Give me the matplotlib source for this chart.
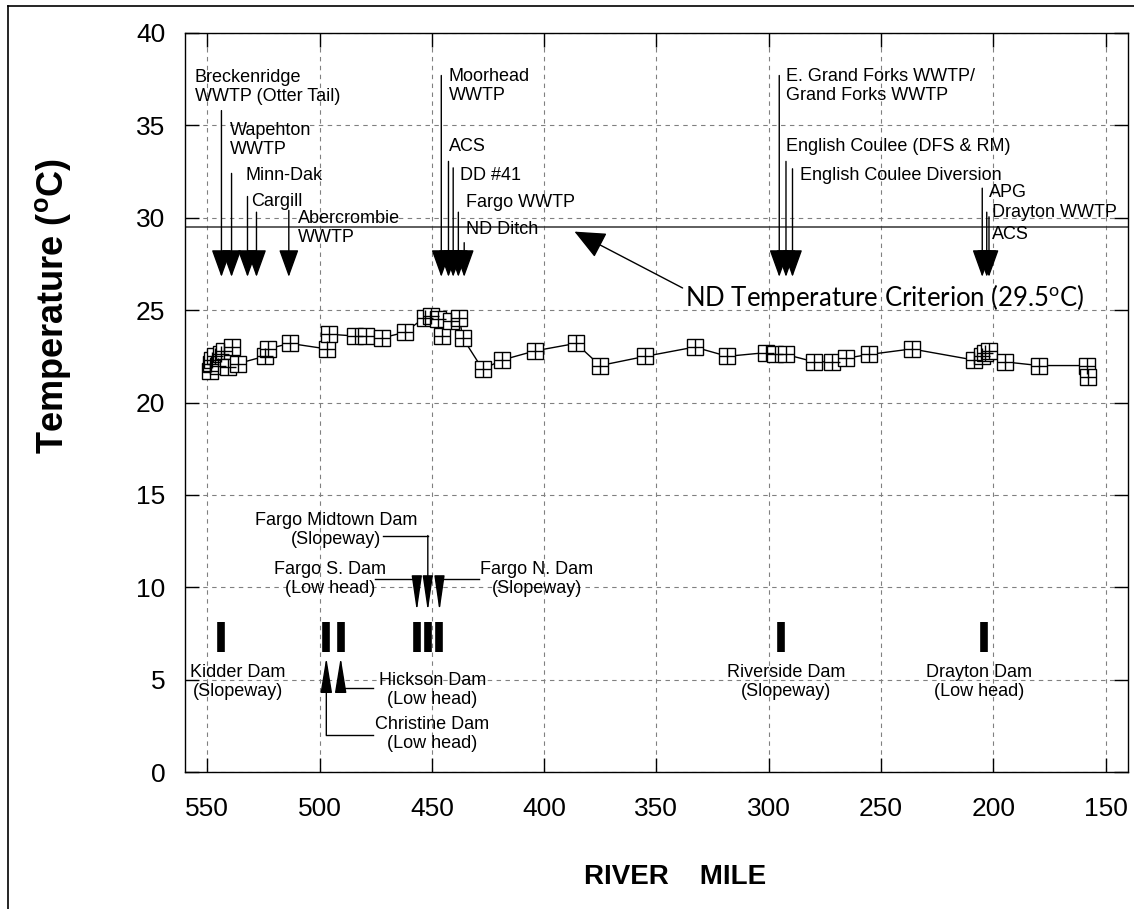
import matplotlib
matplotlib.use('Agg')
import matplotlib.pyplot as plt
from matplotlib.lines import Line2D

plt.rcParams['font.family'] = ['Liberation Sans', 'DejaVu Sans']
plt.rcParams['mathtext.default'] = 'regular'

# measured temperature along the river
river_mile = [549.0, 548.5, 547.8, 546.5, 545.2, 544.0, 542.5, 541.0, 539.0, 536.5,
              524.5, 523.0, 513.3, 496.8, 496.0, 484.4, 479.2, 472.0, 462.0, 453.2,
              450.3, 447.4, 445.6, 441.4, 437.7, 436.3, 427.4, 418.7, 403.9, 385.8,
              375.1, 354.9, 333.0, 318.4, 301.1, 297.0, 292.3, 279.7, 271.7, 265.5,
              255.3, 236.3, 208.6, 205.2, 203.5, 201.9, 194.9, 179.6, 158.3, 157.8]
temp_c = [21.7, 22.1, 22.3, 22.5, 22.0, 22.6, 22.8, 21.9, 23.0, 22.1,
          22.5, 22.9, 23.2, 22.9, 23.7, 23.6, 23.6, 23.5, 23.8, 24.6,
          24.7, 24.5, 23.6, 24.4, 24.6, 23.5, 21.8, 22.3, 22.8, 23.2,
          22.0, 22.5, 23.0, 22.5, 22.7, 22.6, 22.6, 22.2, 22.2, 22.4,
          22.6, 22.9, 22.3, 22.5, 22.7, 22.8, 22.2, 22.0, 22.0, 21.4]

criterion = 29.5

# point discharges (arrow from top value down to tip)
discharge_mile = [543.7, 539.2, 532.1, 528.1, 513.7, 445.8, 442.6, 440.5, 438.2, 435.6,
                  295.3, 292.3, 289.4, 204.9, 202.9, 201.9]
discharge_top = [35.8, 32.4, 31.15, 30.3, 30.4, 37.7, 33.05, 32.7, 30.3, 28.65,
                 37.7, 33.05, 32.65, 31.6, 30.3, 30.05]
discharge_tip = 26.8

discharge_labels = ['Breckenridge\nWWTP (Otter Tail)', 'Wapehton\nWWTP', 'Minn-Dak', 'Cargill',
                    'Abercrombie\nWWTP', 'Moorhead\nWWTP', 'ACS', 'DD #41', 'Fargo WWTP', 'ND Ditch',
                    'E. Grand Forks WWTP/\nGrand Forks WWTP', 'English Coulee (DFS & RM)',
                    'English Coulee Diversion', 'APG', 'Drayton WWTP', 'ACS']
label_mile = [555.5, 540.0, 532.9, 530.3, 509.7, 442.5, 442.5, 437.5, 435.0, 435.0,
              292.2, 292.2, 286.1, 201.9, 200.6, 200.6]
label_temp = [37.1, 34.2, 32.3, 30.9, 29.45, 37.15, 33.84, 32.3, 30.8, 29.35,
              37.15, 33.84, 32.3, 31.35, 30.26, 29.1]

# dams
dam_mile = [544.1, 497.0, 490.6, 456.7, 451.8, 446.6, 294.3, 204.1]
dam_low = 6.5
dam_high = 8.1

dam_labels = ['Kidder Dam\n(Slopeway)', 'Hickson Dam\n(Low head)', 'Christine Dam\n(Low head)',
              'Riverside Dam\n(Slopeway)', 'Drayton Dam\n(Low head)', 'Fargo Midtown Dam\n(Slopeway)',
              'Fargo S. Dam\n(Low head)', 'Fargo N. Dam\n(Slopeway)']
dam_label_mile = [536.4, 449.7, 449.7, 292.4, 206.2, 492.6, 495.5, 403.4]
dam_label_temp = [4.89, 4.45, 2.06, 4.89, 4.89, 13.1, 10.45, 10.45]

# leader lines for dams (elbow: label end -> dam)
up_dam_mile = [490.6, 497.0]          # Hickson, Christine
up_elbow_temp = [4.55, 2.0]
up_elbow_end = [476.4, 476.4]
up_tip = 6.2
down_dam_mile = [451.8, 456.7, 446.6]  # Midtown, S., N.
down_elbow_temp = [12.8, 10.43, 10.43]
down_elbow_end = [471.8, 475.5, 428.8]
down_tip = 8.7

fig = plt.figure(figsize=(11.34, 9.09), dpi=100)
ax = fig.add_axes([0.163, 0.1507, 0.8317, 0.813])

ax.plot(river_mile, temp_c, color='black', lw=1, zorder=3)
ax.plot(river_mile, temp_c, linestyle='none', marker='s', ms=11, mfc='white',
        mec='black', mew=1, zorder=4)
ax.plot(river_mile, temp_c, linestyle='none', marker='+', ms=11, mec='black',
        mew=1, zorder=5)

ax.axhline(criterion, color='#333333', lw=1.1, zorder=2)

for m, top in zip(discharge_mile, discharge_top):
    ax.annotate('', xy=(m, discharge_tip), xytext=(m, top),
                arrowprops=dict(arrowstyle='-|>,head_length=0.86,head_width=0.31',
                                mutation_scale=20, color='black', lw=1,
                                shrinkA=0, shrinkB=0))
for txt, m, t in zip(discharge_labels, label_mile, label_temp):
    ax.text(m, t, txt, fontsize=13, ha='left', va='center', linespacing=1.15)

ax.annotate('ND Temperature Criterion (29.5$^{o}$C)', xy=(386.5, criterion - 0.25),
            xytext=(337.1, 25.7), fontsize=18.5, family=['Lato', 'DejaVu Sans'],
            ha='left', va='center',
            arrowprops=dict(arrowstyle='-|>,head_length=0.97,head_width=0.43',
                            mutation_scale=20, color='black', lw=1,
                            shrinkA=0, shrinkB=0, relpos=(0, 0.75)))

ax.vlines(dam_mile, dam_low, dam_high, color='black', lw=5.5, zorder=3)
for txt, m, t in zip(dam_labels, dam_label_mile, dam_label_temp):
    ax.text(m, t, txt, fontsize=13, ha='center', va='center', linespacing=1.15)

for m, e, end in zip(up_dam_mile, up_elbow_temp, up_elbow_end):
    ax.plot([end, m], [e, e], color='black', lw=1)
    ax.annotate('', xy=(m, up_tip), xytext=(m, e),
                arrowprops=dict(arrowstyle='-|>,head_length=1.1,head_width=0.18',
                                mutation_scale=20, color='black', lw=1,
                                shrinkA=0, shrinkB=0))
for m, e, end in zip(down_dam_mile, down_elbow_temp, down_elbow_end):
    ax.plot([end, m], [e, e], color='black', lw=1)
    ax.annotate('', xy=(m, down_tip), xytext=(m, e),
                arrowprops=dict(arrowstyle='-|>,head_length=1.1,head_width=0.16',
                                mutation_scale=20, color='black', lw=1,
                                shrinkA=0, shrinkB=0))

ax.set_xlim(560, 140)
ax.set_ylim(0, 40)
ax.set_xticks([550, 500, 450, 400, 350, 300, 250, 200, 150])
ax.set_yticks(range(0, 41, 5))
ax.grid(True, color='gray', linestyle=(0, (4, 4)), lw=0.8)
ax.set_axisbelow(True)
ax.tick_params(direction='in', length=10, width=1, top=True, right=True,
               labelsize=19)
ax.tick_params(axis='x', pad=18)
ax.tick_params(axis='y', pad=14)
for s in ax.spines.values():
    s.set_linewidth(1)

ax.set_ylabel('Temperature ($^{o}$C)', fontsize=26, fontweight='bold')
ax.yaxis.set_label_coords(-0.14, 0.63)
ax.set_xlabel('RIVER    MILE', fontsize=20, fontweight='bold')
ax.xaxis.set_label_coords(0.52, -0.142)
ax.xaxis.label.set_va('center')
ax.yaxis.label.set_va('center')

# outer frame lines
fig.add_artist(Line2D([0.007, 1.0], [0.9934, 0.9934], color='black', lw=1.2))
fig.add_artist(Line2D([0.007, 0.007], [0.0, 0.9934], color='black', lw=1.2))

fig.savefig('out.png', dpi=100)
